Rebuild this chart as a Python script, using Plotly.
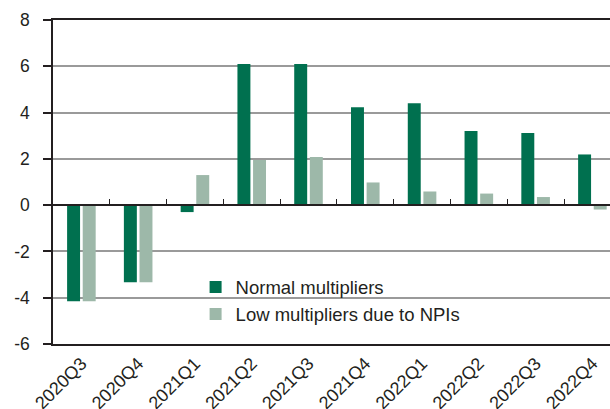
"""
Multiplier scenarios by quarter: grouped bar chart
"""

import plotly.graph_objects as go

# Data
quarters = ["2020Q3", "2020Q4", "2021Q1", "2021Q2", "2021Q3",
            "2021Q4", "2022Q1", "2022Q2", "2022Q3", "2022Q4"]
normal_multipliers = [-4.15, -3.33, -0.3, 6.1, 6.1, 4.23, 4.4, 3.2, 3.12, 2.19]
low_multipliers = [-4.15, -3.33, 1.3, 1.95, 2.08, 0.98, 0.59, 0.5, 0.35, -0.19]

y_ticks = [-6, -4, -2, 0, 2, 4, 6, 8]
# plain hyphen as in the source; trailing nbsp pushes labels away from the ticks
y_labels = [str(v) + "\u00a0\u00a0" for v in y_ticks]

DARK_GREEN = "#00704f"
LIGHT_GREEN = "#9db8a9"
TEXT = "#231f20"

fig = go.Figure()

fig.add_trace(go.Bar(
    x=list(range(len(quarters))),
    y=normal_multipliers,
    name="Normal multipliers",
    legendgroup="normal",
    marker=dict(color=DARK_GREEN, line=dict(width=0)),
))

fig.add_trace(go.Bar(
    x=list(range(len(quarters))),
    y=low_multipliers,
    name="Low multipliers due to NPIs",
    legendgroup="low",
    marker=dict(color=LIGHT_GREEN, line=dict(width=0)),
))

# Axis along the zero line carrying the small category separators
fig.add_trace(go.Scatter(x=[0], y=[0], xaxis="x2", showlegend=False,
                         mode="markers", marker=dict(opacity=0),
                         hoverinfo="skip"))

fig.update_layout(
    width=610,
    height=409,
    margin=dict(l=53, r=0, t=20, b=65),
    paper_bgcolor="white",
    plot_bgcolor="white",
    font=dict(family="Liberation Sans, Arial, sans-serif", size=17, color=TEXT),
    barmode="group",
    bargap=0.45,
    bargroupgap=0.17,
    showlegend=True,
    legend=dict(
        x=0.256, y=0.133, xanchor="left", yanchor="middle",
        bgcolor="rgba(0,0,0,0)",
        font=dict(size=18.5, color=TEXT),
        traceorder="grouped",
        tracegroupgap=0,
        itemwidth=30,
    ),
    xaxis=dict(
        range=[-0.5, 9.31],
        automargin=False,
        tickmode="array",
        tickvals=list(range(len(quarters))),
        ticktext=quarters,
        tickangle=-45,
        ticks="",
        showgrid=False,
        zeroline=False,
        showline=True,
        mirror=True,
        linecolor="#231f20",
        linewidth=2,
        tickfont=dict(size=18),
    ),
    xaxis2=dict(
        overlaying="x",
        matches="x",
        anchor="free",
        position=6 / 14,
        side="top",
        automargin=False,
        tickmode="array",
        tickvals=[i + 0.5 for i in range(len(quarters))],
        showticklabels=False,
        ticks="outside",
        ticklen=5,
        tickwidth=1,
        tickcolor="#231f20",
        showgrid=False,
        zeroline=False,
        showline=True,
        linecolor="#231f20",
        linewidth=1.5,
    ),
    yaxis=dict(
        range=[-6, 8],
        automargin=False,
        tickmode="array",
        tickvals=y_ticks,
        ticktext=y_labels,
        ticks="outside",
        ticklen=8,
        tickwidth=1.5,
        tickcolor="#231f20",
        showgrid=True,
        gridcolor="#9a9a9a",
        gridwidth=1.5,
        zeroline=False,
        showline=True,
        linecolor="#231f20",
        linewidth=2,
        tickfont=dict(size=17.5),
    ),
)

# Drop the browser's default body margin so the 610x409 figure fills the window
fig.write_html(
    "out.html",
    config={"displayModeBar": False},
    post_script="document.body.style.margin = '0';",
)
